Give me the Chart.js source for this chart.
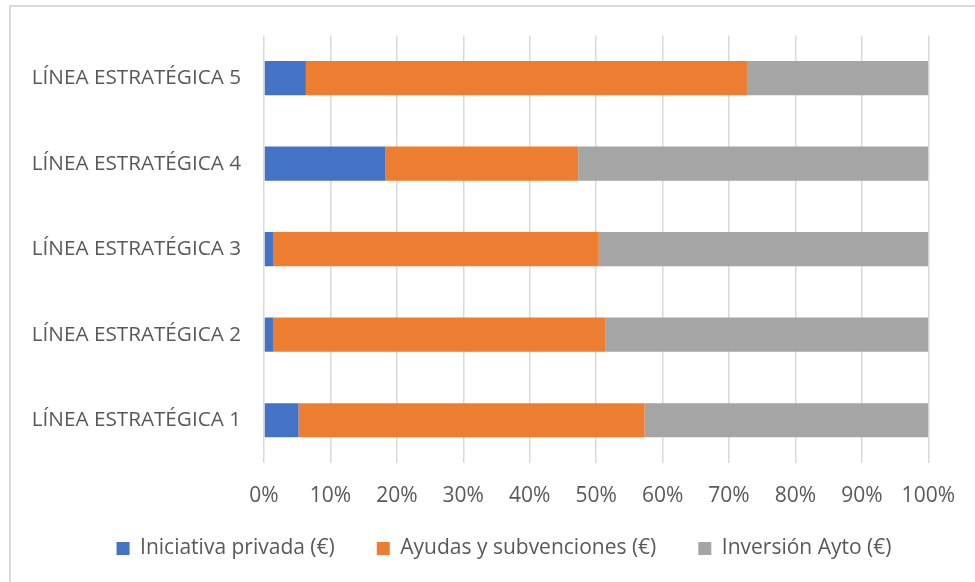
<!DOCTYPE html>
<html>
<head>
<meta charset="utf-8">
<script src="https://cdn.jsdelivr.net/npm/chart.js@4"></script>
<style>
  html, body { margin: 0; padding: 0; background: #fff; }
  #wrap { position: relative; width: 975px; height: 582px; }
  #frame { position: absolute; left: 9px; top: 5px; right: -5px; bottom: -5px; border-left: 2px solid #d9d9d9; border-top: 2px solid #d9d9d9; pointer-events: none; }
  canvas { position: absolute; left: 0; top: 0; }
</style>
</head>
<body>
<div id="wrap">
  <canvas id="c" width="975" height="582"></canvas>
  <div id="frame"></div>
</div>
<script>
const categories = ['LÍNEA ESTRATÉGICA 1', 'LÍNEA ESTRATÉGICA 2', 'LÍNEA ESTRATÉGICA 3', 'LÍNEA ESTRATÉGICA 4', 'LÍNEA ESTRATÉGICA 5'];
const iniciativaPrivada = [5.2, 1.35, 1.35, 18.3, 6.3];
const ayudasSubvenciones = [52.1, 50.0, 49.05, 29.0, 66.4];
const inversionAyto = [42.7, 48.65, 49.6, 52.7, 27.3];
const seriesNames = ['Iniciativa privada (€)', 'Ayudas y subvenciones (€)', 'Inversión Ayto (€)'];
const tickStep = 10;

const FONT = "'Open Sans', 'Noto Sans', sans-serif";
const TEXT = '#595959';

const legendShift = {
  id: 'legendShift',
  afterLayout(chart) {
    const lg = chart.legend;
    if (lg) { lg.left += 34; lg.right += 34; lg.top -= 13; lg.bottom -= 13; }
  }
};

new Chart(document.getElementById('c'), {
  type: 'bar',
  data: {
    labels: categories,
    datasets: [
      { label: seriesNames[0], data: iniciativaPrivada, backgroundColor: '#4472C4' },
      { label: seriesNames[1], data: ayudasSubvenciones, backgroundColor: '#ED7D31' },
      { label: seriesNames[2], data: inversionAyto, backgroundColor: '#A5A5A5' }
    ]
  },
  plugins: [legendShift],
  options: {
    indexAxis: 'y',
    responsive: false,
    animation: false,
    devicePixelRatio: 1,
    datasets: { bar: { categoryPercentage: 1, barPercentage: 0.4 } },
    layout: { padding: { left: 10, right: 45, top: 35, bottom: 0 } },
    scales: {
      x: {
        stacked: true, min: 0, max: 100,
        border: { display: false },
        grid: { color: '#d9d9d9', lineWidth: 1.5, drawTicks: false },
        ticks: { stepSize: tickStep, color: TEXT, padding: 20, font: { family: FONT, size: 21 }, callback: v => v + '%' },
        afterFit: s => { s.height = 46; }
      },
      y: {
        stacked: true, reverse: true,
        border: { display: false },
        grid: { display: false, drawTicks: false },
        ticks: { color: TEXT, padding: 23, font: { family: FONT, size: 20.7 } },
        afterFit: s => { s.width = 254; }
      }
    },
    plugins: {
      tooltip: { enabled: false },
      legend: {
        position: 'bottom',
        labels: { color: TEXT, font: { family: FONT, size: 21 }, boxWidth: 13, boxHeight: 13, padding: 42 }
      }
    }
  }
});
</script>
</body>
</html>
